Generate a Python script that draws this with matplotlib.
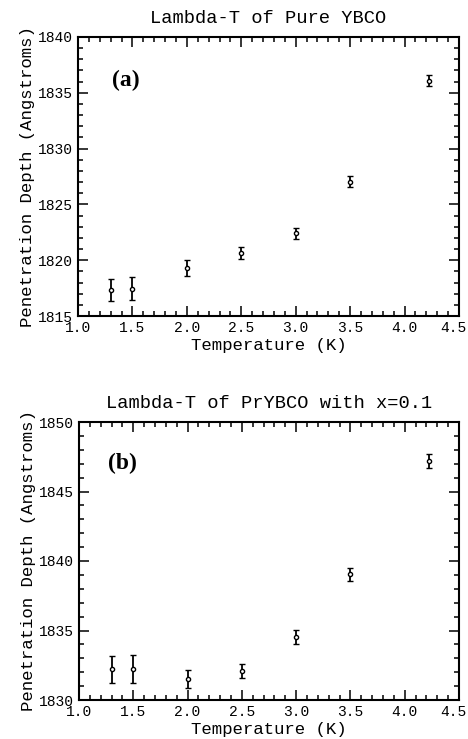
import matplotlib
matplotlib.use("Agg")
import matplotlib.pyplot as plt
import matplotlib.transforms as mtransforms
from matplotlib.ticker import MultipleLocator

# Data
temps = [1.3, 1.5, 2.0, 2.5, 3.0, 3.5, 4.22]
lam_a = [1817.3, 1817.45, 1819.3, 1820.65, 1822.4, 1827.05, 1836.1]
err_a = [1.0, 1.0, 0.7, 0.5, 0.5, 0.5, 0.5]
lam_b = [1832.2, 1832.25, 1831.5, 1832.06, 1834.55, 1839.03, 1847.2]
err_b = [0.97, 1.0, 0.65, 0.5, 0.5, 0.48, 0.5]

titles = ["Lambda-T of Pure YBCO", "Lambda-T of PrYBCO with x=0.1"]
tags = ["(a)", "(b)"]
ylims = [(1815, 1840), (1830, 1850)]
yticks_major = [5, 5]
xlabel = "Temperature (K)"
ylabel = "Penetration Depth (Angstroms)"

mono = "Liberation Mono"
W, H = 468, 739
fig = plt.figure(figsize=(W / 100, H / 100), dpi=100)

# axes boxes in pixels: left, top, right, bottom
boxes = [(78, 37, 459, 316), (79, 422, 459, 700)]
series = [(lam_a, err_a), (lam_b, err_b)]
tagpos = [(0.09, 0.846), (0.077, 0.85)]

for i, (box, (vals, errs)) in enumerate(zip(boxes, series)):
    l, t, r, b = box
    ax = fig.add_axes([l / W, 1 - b / H, (r - l) / W, (b - t) / H])
    ax.errorbar(temps, vals, yerr=errs, fmt="o", ms=3.0, mfc="white",
                mec="black", mew=1.0, ecolor="black", elinewidth=1.3,
                capsize=2.0, capthick=1.1, color="black")
    ax.set_xlim(1.0, 4.5)
    ax.set_ylim(*ylims[i])
    ax.xaxis.set_major_locator(MultipleLocator(0.5))
    ax.xaxis.set_minor_locator(MultipleLocator(0.1))
    ax.yaxis.set_major_locator(MultipleLocator(yticks_major[i]))
    ax.yaxis.set_minor_locator(MultipleLocator(1))
    ax.tick_params(which="both", direction="in", top=True, right=True,
                   width=1.1, labelsize=10.5)
    ax.tick_params(which="major", length=7)
    ax.tick_params(which="minor", length=3.5)
    ax.xaxis.set_major_formatter(plt.FuncFormatter(lambda v, p: f"{v:.1f}"))
    ax.yaxis.set_major_formatter(plt.FuncFormatter(lambda v, p: f"{v:.0f}"))
    for s in ax.spines.values():
        s.set_linewidth(1.5)
    ax.set_title(titles[i], family=mono, fontsize=13.5, pad=10)
    ax.set_xlabel(xlabel, family=mono, fontsize=12.5, labelpad=2)
    ax.set_ylabel(ylabel, family=mono, fontsize=12.5, labelpad=2)
    ax.text(tagpos[i][0], tagpos[i][1], tags[i], transform=ax.transAxes,
            family="Liberation Serif", fontweight="bold", fontsize=17,
            va="center", ha="left")
    fig.canvas.draw()
    xl = ax.get_xticklabels()
    for lab in xl + ax.get_yticklabels():
        lab.set_family(mono)
    # nudge the last x tick label so it stays inside the figure
    last = [lab for lab in xl if lab.get_text() == "4.5"]
    for lab in last:
        lab.set_transform(lab.get_transform() +
                          mtransforms.ScaledTranslation(-6 / 100, 0, fig.dpi_scale_trans))

fig.savefig("out.png", dpi=100)
